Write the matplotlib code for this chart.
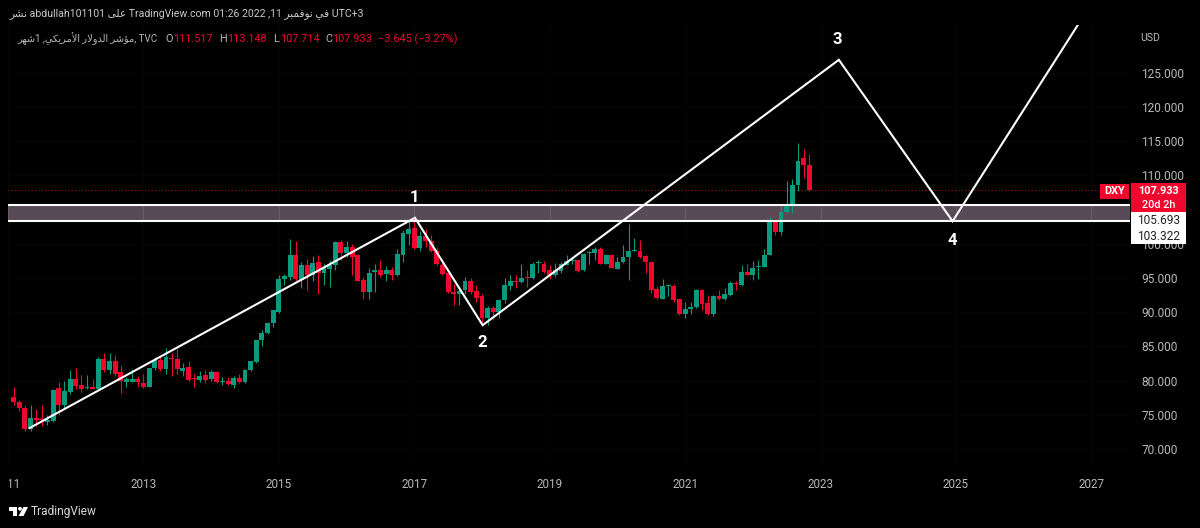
import numpy as np
import matplotlib
matplotlib.use('Agg')
import matplotlib.pyplot as plt
from matplotlib.patches import Rectangle, Polygon, Circle
from matplotlib.transforms import Bbox

plt.rcParams['font.family'] = ['Roboto', 'DejaVu Sans']

# monthly DXY candles, Feb 2011 to Nov 2022
opens = [
    77.6, 76.9, 76.0, 72.9, 74.6, 74.3, 73.9, 74.1, 78.9, 76.4, 78.3,
    80.2, 79.3, 78.9, 79.0, 78.8, 83.2, 81.6, 82.9, 81.2, 79.8, 79.8, 80.3,
    79.7, 79.1, 81.8, 83.0, 81.7, 83.2, 83.2, 81.4, 82.0, 80.3, 80.1, 80.8,
    80.2, 81.2, 79.8, 80.0, 79.4, 80.4, 79.8, 81.5, 82.7, 85.9, 87.0, 88.4,
    90.0, 94.8, 95.2, 98.4, 94.7, 96.9, 95.5, 97.3, 95.7, 96.3, 96.9, 100.2,
    98.7, 99.6, 98.3, 94.7, 93.0, 95.9, 96.1, 95.6, 96.1, 95.4, 98.4, 101.5,
    102.3, 99.4, 101.2, 100.4, 99.0, 96.9, 95.7, 92.9, 92.7, 93.2, 94.6, 93.1,
    92.3, 89.1, 90.6, 90.0, 91.8, 93.9, 94.6, 94.4, 95.2, 95.0, 97.2, 97.1,
    96.2, 95.4, 96.0, 96.9, 97.5, 97.6, 96.1, 98.65, 98.6, 99.3, 97.1, 98.3,
    96.3, 97.3, 98.0, 99.0, 99.0, 98.2, 97.4, 93.4, 92.0, 93.8, 93.8, 91.9,
    89.8, 90.4, 90.8, 93.2, 91.4, 89.7, 92.3, 92.0, 92.5, 94.3, 94.0, 95.9,
    95.4, 96.6, 96.6, 98.3, 103.4, 101.7, 104.7, 105.8, 108.6, 112.5, 111.517,
]
closes = [
    76.9, 76.0, 72.9, 74.6, 74.3, 74.2, 74.2, 78.6, 76.4, 78.5, 80.3,
    79.2, 78.7, 79.0, 78.8, 83.2, 81.6, 82.9, 80.9, 79.9, 80.2, 80.2, 79.8,
    79.1, 81.8, 83.0, 81.7, 83.4, 83.1, 81.7, 81.8, 80.1, 80.2, 80.7, 80.1,
    81.3, 79.8, 80.0, 79.5, 80.4, 79.8, 81.5, 82.8, 85.9, 87.0, 88.4, 90.3,
    94.8, 95.3, 98.4, 94.8, 96.9, 95.4, 97.2, 95.7, 96.4, 96.9, 100.2, 98.6,
    99.6, 98.1, 94.6, 92.9, 95.8, 96.1, 95.5, 96.1, 95.4, 98.5, 101.6, 102.2,
    99.4, 101.2, 100.4, 98.9, 97.0, 95.6, 92.9, 92.7, 93.1, 94.5, 93.0, 92.1,
    89.1, 90.6, 90.0, 91.8, 94.0, 94.5, 94.45, 95.0, 95.05, 97.0, 97.3, 95.9,
    95.4, 96.2, 97.0, 97.5, 97.6, 96.0, 98.5, 98.75, 99.3, 97.1, 98.3, 96.4,
    97.4, 98.0, 98.95, 99.05, 98.1, 97.3, 93.3, 92.1, 93.8, 94.0, 91.8, 89.8,
    90.5, 90.8, 93.3, 91.2, 89.7, 92.4, 91.9, 92.6, 94.3, 94.1, 95.9, 95.5,
    96.5, 96.7, 98.4, 103.4, 101.7, 104.7, 105.8, 108.6, 112.1, 111.5, 107.933,
]
highs = [
    79.0, 77.2, 76.4, 76.4, 75.9, 76.5, 75.0, 78.8, 79.8, 79.9, 81.5,
    81.8, 80.8, 80.8, 80.2, 83.4, 84.1, 84.1, 83.8, 82.3, 80.5, 81.7, 80.7,
    81.0, 81.9, 83.4, 83.6, 84.7, 84.0, 84.6, 82.5, 82.9, 81.0, 81.4, 81.5,
    81.5, 81.4, 80.5, 80.5, 80.7, 81.0, 81.7, 82.9, 85.9, 87.4, 88.5, 90.3,
    95.5, 95.6, 100.7, 100.4, 97.3, 97.8, 98.2, 98.3, 97.0, 97.7, 100.4, 100.6,
    100.4, 99.9, 98.5, 95.1, 96.5, 97.0, 97.6, 96.7, 96.6, 99.3, 102.0, 103.6,
    103.8, 101.8, 102.2, 101.3, 99.5, 97.8, 96.1, 94.1, 93.9, 95.1, 95.0, 94.0,
    92.6, 90.9, 90.9, 92.0, 95.0, 95.4, 95.4, 97.0, 96.1, 97.3, 97.6, 97.5,
    96.9, 97.2, 97.4, 98.3, 98.1, 97.7, 98.7, 99.0, 99.5, 99.6, 98.5, 98.4,
    98.1, 99.8, 102.9, 100.8, 100.5, 98.4, 97.5, 93.9, 94.8, 94.1, 94.1, 92.0,
    91.5, 91.5, 93.4, 93.4, 92.5, 92.5, 93.2, 93.6, 94.5, 94.6, 96.9, 97.0,
    97.5, 97.6, 99.3, 103.9, 104.9, 105.8, 109.2, 109.5, 114.7, 113.9, 113.148,
]
lows = [
    76.5, 75.5, 72.7, 72.7, 73.3, 73.4, 73.5, 73.9, 75.0, 76.0, 78.0,
    78.7, 78.3, 78.8, 78.7, 78.7, 81.3, 81.0, 80.6, 78.2, 79.1, 79.8, 79.0,
    78.9, 79.0, 81.5, 81.4, 81.0, 80.7, 81.0, 80.7, 79.9, 79.0, 79.8, 79.7,
    80.0, 79.7, 79.3, 79.3, 78.9, 79.7, 79.7, 81.4, 82.6, 85.0, 86.8, 87.8,
    89.9, 94.0, 94.7, 94.2, 93.5, 93.3, 94.6, 92.6, 94.0, 93.7, 96.2, 97.7,
    98.0, 95.4, 94.5, 91.9, 91.9, 93.0, 95.1, 94.5, 94.7, 95.3, 97.3, 99.8,
    99.2, 99.0, 99.6, 98.8, 96.9, 95.5, 92.8, 91.0, 91.0, 92.7, 92.6, 91.5,
    88.4, 88.2, 89.0, 89.1, 91.4, 93.2, 93.6, 94.3, 93.7, 94.8, 95.7, 95.8,
    94.9, 95.2, 95.8, 96.9, 97.1, 95.9, 96.0, 97.1, 97.7, 97.1, 97.0, 96.4,
    96.3, 97.2, 94.7, 98.9, 97.9, 95.7, 92.8, 91.9, 91.9, 92.4, 91.5, 89.6,
    89.2, 89.8, 90.6, 90.3, 89.6, 89.5, 91.8, 91.8, 92.3, 93.2, 93.9, 95.5,
    94.7, 94.9, 96.6, 98.3, 101.3, 101.3, 104.5, 104.5, 107.7, 109.6, 107.714,
]

# hand drawn wave line, in years and prices
wave_years = [2011.32, 2017.01, 2018.01, 2023.27, 2024.95, 2026.8]
wave_prices = [73.07, 103.8, 88.1, 126.9, 103.3, 132.0]
wave_labels = ['1', '2', '3', '4']
wave_label_years = [2017.0, 2018.0, 2023.25, 2024.95]
wave_label_prices = [106.8, 85.6, 129.9, 100.5]

zone_top = 105.693
zone_bottom = 103.322
last_price = 107.933

year_ticks = [2011, 2013, 2015, 2017, 2019, 2021, 2023, 2025, 2027]
# the 105 label sits behind the price tags, so it has no text
price_ticks = [70, 75, 80, 85, 90, 95, 100, 105, 110, 115, 120, 125]
price_labels = ['70.000', '75.000', '80.000', '85.000', '90.000', '95.000', '100.000', '',
                '110.000', '115.000', '120.000', '125.000']

GREEN = '#0a9b7f'
RED = '#f0072e'
GREY = '#b8b8b8'

# arabic is given in shaped forms and visual order, matplotlib does no shaping
publish = '\ufeae\ufeb8\ufee7'
on_word = '\ufef0\ufee0\ufecb'
november = '\ufeae\ufe92\ufee4\ufed3\ufeee\ufee7'
in_word = '\ufef2\ufed3'
month = '\ufeae\ufeec\ufeb7'
american = '\ufef2\ufedc\ufef3\ufeae\ufee3\ufef7\ufe8d'
dollar = '\ufead\ufefb\ufeed\ufeaa\ufedf\ufe8d'
index_word = '\ufeae\ufeb7\ufe86\ufee3'

header = f'{publish} abdullah101101 {on_word} TradingView.com 01:26 2022 ,11 {november} {in_word} UTC+3'
symbol = f'{month}1 ,{american} {dollar} {index_word}, TVC'

fig = plt.figure(figsize=(12, 5.28), dpi=100, facecolor='black')
ax = fig.add_axes([8 / 1200, 1 - 465 / 528, (1130 - 8) / 1200, (465 - 25) / 528], facecolor='black')

years = 2011 + np.arange(1, len(closes) + 1) / 12
opens = np.array(opens)
closes = np.array(closes)
colors = [GREEN if c >= o else RED for o, c in zip(opens, closes)]

ax.vlines(years, lows, highs, colors=colors, linewidth=0.8, zorder=3)
ax.bar(years, np.maximum(np.abs(closes - opens), 0.15), bottom=np.minimum(opens, closes),
       width=0.072, color=colors, linewidth=0, zorder=3)

# zone between the two levels
ax.axhspan(zone_bottom, zone_top, color='#947c92', alpha=0.6, linewidth=0, zorder=2)
ax.vlines(year_ticks, zone_bottom, zone_top, color='#6b5d6a', linewidth=0.7, zorder=2.5)
ax.axhline(zone_top, color='white', linewidth=1.5, zorder=4)
ax.axhline(zone_bottom, color='white', linewidth=1.5, zorder=4)
ax.axhline(last_price, color='#a01020', linewidth=0.8, linestyle=(0, (1, 2)), zorder=1)

ax.plot(wave_years, wave_prices, color='white', linewidth=1.5, zorder=5, solid_joinstyle='miter')
for lab, yr, pr in zip(wave_labels, wave_label_years, wave_label_prices):
    ax.text(yr, pr, lab, color='white', fontsize=12, fontweight='bold',
            ha='center', va='center', zorder=6)

ax.set_xlim(2011.024, 2027.57)
ax.set_ylim(67.66, 131.99)
ax.set_xticks(year_ticks)
ax.set_yticks(price_ticks)
ax.set_yticklabels(price_labels)
ax.yaxis.tick_right()
ax.tick_params(axis='x', length=0, pad=9.5, labelsize=8.4, labelcolor=GREY)
ax.tick_params(axis='y', length=0, pad=8, labelsize=8.6, labelcolor=GREY)
ax.grid(axis='both', color='#070707', linewidth=0.7, zorder=0)
ax.set_axisbelow(True)
for s in ax.spines.values():
    s.set_visible(False)

# 2011 is cut off by the left edge of the pane
for lab in ax.get_xticklabels():
    if lab.get_text() == '2011':
        lab.set_clip_box(Bbox([[9, 0], [1200, 528]]))
        lab.set_clip_on(True)

# everything outside the pane is placed in pixels on a full size overlay
over = fig.add_axes([0, 0, 1, 1], zorder=10)
over.set_xlim(0, 1200)
over.set_ylim(528, 0)
over.axis('off')

over.text(9, 14, header, color='#c8c8c8', fontsize=7.6, va='center')
over.text(17, 39, symbol, color='#b8b8b8', fontsize=7.0, va='center')
for x, s, c in [(165, 'O', GREY), (173, '111.517', RED), (219, 'H', GREY), (227, '113.148', RED),
                (273, 'L', GREY), (280, '107.714', RED), (325, 'C', GREY), (332, '107.933', RED),
                (378, '\u22123.645 (\u22123.27%)', RED)]:
    over.text(x, 39, s, color=c, fontsize=7.8, va='center')
over.text(1140, 38, 'USD', color=GREY, fontsize=7.6, va='center')

# price tags
over.add_patch(Rectangle((1100, 183.5), 29, 15.5, color=RED, linewidth=0))
over.text(1114.5, 191, 'DXY', color='white', fontsize=7.8, fontweight='bold', ha='center', va='center')
over.add_patch(Rectangle((1131, 183), 55, 29, color=RED, linewidth=0))
over.text(1158.5, 190.5, f'{last_price:.3f}', color='white', fontsize=7.8, fontweight='bold', ha='center', va='center')
over.text(1158.5, 204.5, '20d 2h', color='white', fontsize=7.8, fontweight='medium', ha='center', va='center')
over.add_patch(Rectangle((1131, 212), 55, 31.5, color='white', linewidth=0))
over.text(1158.5, 220, f'{zone_top:.3f}', color='#222222', fontsize=8.6, ha='center', va='center')
over.text(1158.5, 236.5, f'{zone_bottom:.3f}', color='#222222', fontsize=8.6, ha='center', va='center')

# logo and name at the bottom
over.add_patch(Polygon([(9, 507), (17, 507), (17, 516), (13, 516), (13, 511), (9, 511)], color='white', linewidth=0))
over.add_patch(Circle((20, 508.8), 1.9, color='white', linewidth=0))
over.add_patch(Polygon([(23.5, 507), (28, 507), (23.5, 516), (18.5, 516)], color='white', linewidth=0))
over.text(31, 511.5, 'TradingView', color='#d8d8d8', fontsize=8.6, va='center')

fig.savefig('out.png', dpi=100, facecolor='black')
